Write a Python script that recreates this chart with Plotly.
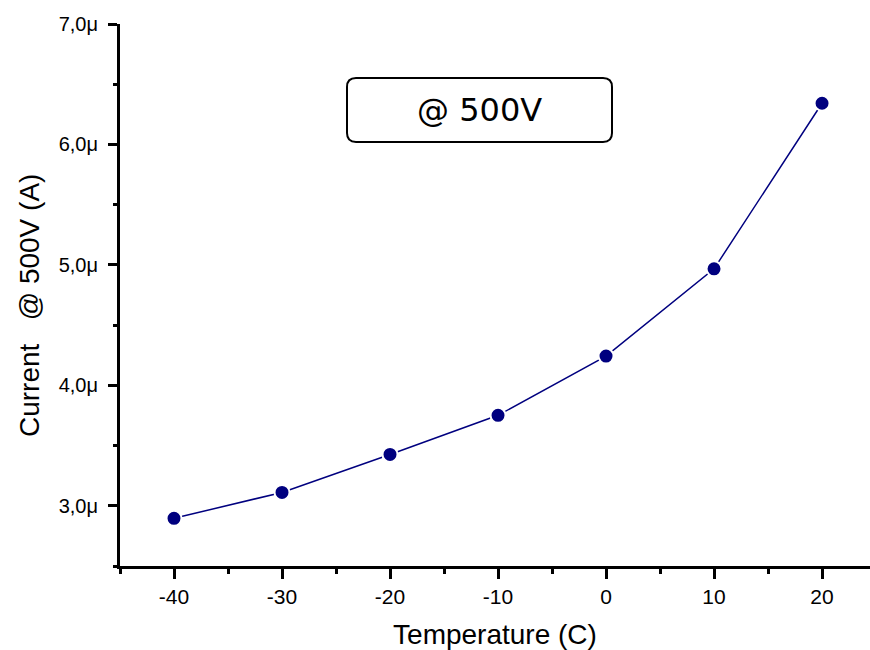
import plotly.graph_objects as go

# Leakage current measured at 500 V versus temperature
temperature_c = [-40, -30, -20, -10, 0, 10, 20]
current_a = [2.896e-6, 3.111e-6, 3.426e-6, 3.751e-6, 4.243e-6, 4.967e-6, 6.342e-6]

x_tick_vals = [-40, -30, -20, -10, 0, 10, 20]
x_tick_text = ["-40", "-30", "-20", "-10", "0", "10", "20"]
y_tick_vals = [3e-6, 4e-6, 5e-6, 6e-6, 7e-6]
y_tick_text = ["3,0μ", "4,0μ", "5,0μ", "6,0μ", "7,0μ"]

W, H = 870, 650
L, R, T, B = 120, 0, 24, 84
PW, PH = W - L - R, H - T - B

NAVY = "#00007F"
SANS = "Liberation Sans, Arial, sans-serif"
X_TICK_FONT = dict(family=SANS, size=21, color="black")
Y_TICK_FONT = dict(family=SANS, size=20, color="black")
TITLE_FONT = dict(family=SANS, size=28, color="black")


def px_to_paper(px, py):
    return (px - L) / PW, (H - B - py) / PH


fig = go.Figure()
fig.add_trace(go.Scatter(
    x=temperature_c,
    y=current_a,
    mode="lines+markers",
    line=dict(color=NAVY, width=1.5),
    marker=dict(color=NAVY, size=15, line=dict(color="white", width=2)),
    showlegend=False,
))

# Rounded label box drawn as a path in paper coordinates
x0, y0, x1, y1, rad = 347, 78, 612, 142, 9
def P(px, py):
    a, b = px_to_paper(px, py)
    return f"{a:.5f},{b:.5f}"
path = (
    f"M {P(x0 + rad, y0)} L {P(x1 - rad, y0)} Q {P(x1, y0)} {P(x1, y0 + rad)} "
    f"L {P(x1, y1 - rad)} Q {P(x1, y1)} {P(x1 - rad, y1)} "
    f"L {P(x0 + rad, y1)} Q {P(x0, y1)} {P(x0, y1 - rad)} "
    f"L {P(x0, y0 + rad)} Q {P(x0, y0)} {P(x0 + rad, y0)} Z"
)
fig.add_shape(type="path", xref="paper", yref="paper", path=path,
              line=dict(color="black", width=2), fillcolor="white", layer="above")
cx, cy = px_to_paper((x0 + x1) / 2, (y0 + y1) / 2)
fig.add_annotation(xref="paper", yref="paper", x=cx, y=cy, text="@ 500V",
                   showarrow=False, xanchor="center", yanchor="middle",
                   font=dict(family="DejaVu Sans", size=32, color="black"))

# Vertical axis title
tx, ty = px_to_paper(29, 306)
fig.add_annotation(xref="paper", yref="paper", x=tx, y=ty,
                   text="Current\u00a0\u00a0\u00a0@ 500V (A)", textangle=-90,
                   showarrow=False, xanchor="center", yanchor="middle",
                   font=TITLE_FONT)

fig.update_layout(
    width=W, height=H,
    margin=dict(l=L, r=R, t=T, b=B, pad=0),
    paper_bgcolor="white", plot_bgcolor="white",
)
fig.update_xaxes(
    range=[-45, 24.44], tickmode="array", tickvals=x_tick_vals, ticktext=x_tick_text,
    ticks="outside", ticklen=10, tickwidth=3, tickcolor="black",
    showline=True, linewidth=3, linecolor="black", mirror=False,
    showgrid=False, zeroline=False, tickfont=X_TICK_FONT, ticklabelstandoff=0,
    minor=dict(dtick=5, tick0=0, ticks="outside", ticklen=5, tickwidth=3, tickcolor="black", showgrid=False),
    title=dict(text="Temperature (C)", font=TITLE_FONT, standoff=20),
    automargin=False,
)
fig.update_yaxes(
    range=[2.5e-6, 7.0e-6], tickmode="array", tickvals=y_tick_vals, ticktext=y_tick_text,
    ticks="outside", ticklen=9, tickwidth=3, tickcolor="black",
    showline=True, linewidth=3, linecolor="black", mirror=False,
    showgrid=False, zeroline=False, tickfont=Y_TICK_FONT, ticklabelstandoff=6,
    minor=dict(dtick=0.5e-6, tick0=0, ticks="outside", ticklen=4, tickwidth=3, tickcolor="black", showgrid=False),
    automargin=False,
)

fig.write_html("out.html")
